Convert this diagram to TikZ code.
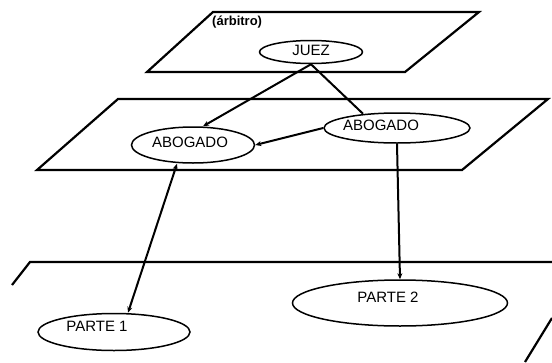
\documentclass[tikz,border=0pt]{standalone}
\usepackage{fontspec}
\setmainfont{Liberation Sans}
\usepackage{tikz}
\usetikzlibrary{shapes.geometric,arrows.meta}

\begin{document}
\begin{tikzpicture}
          [x=1pt,y=-1pt,font=\fontsize{15}{17}\selectfont,
          plane/.style={draw=black,line width=2.2pt,line join=miter},
          node/.style={shape=ellipse,draw=black,line width=1.5pt,inner sep=0pt},
          arc/.style={-{Stealth[length=6pt,width=5pt]},line width=2pt},
          both/.style={{Stealth[length=6pt,width=5pt]}-{Stealth[length=6pt,width=5pt]},line width=2pt},
          edge/.style={line width=2pt}]

            \useasboundingbox (0,0) rectangle (552,362);

            % planes
            \draw [plane] (213,12) -- (479,12) -- (405,72) -- (147,72) -- cycle;
            \draw [plane] (118,99) -- (548,99) -- (462,170) -- (37,170) -- cycle;
            \draw [plane] (12,285) -- (30,262) -- (552,262);
            \draw [plane] (552,318) -- (525,362);

            \node (arb) [anchor=west,inner sep=0pt,font=\fontsize{13}{15}\selectfont\bfseries] at (212,22) {(árbitro)};

            \node (juez) [node,minimum width=103pt,minimum height=23pt] at (311,52) {};
            \node (abo1) [node,minimum width=123pt,minimum height=36pt] at (193,145) {};
            \node (abo2) [node,minimum width=146pt,minimum height=30pt] at (397,128) {};
            \node (p1) [node,minimum width=152pt,minimum height=37pt] at (114,332) {};
            \node (p2) [node,minimum width=215pt,minimum height=46pt] at (400,303) {};

            \node at (311,50) {JUEZ};
            \node at (190,142) {ABOGADO};
            \node at (381,125) {ABOGADO};
            \node at (97,326) {PARTE 1};
            \node at (388,297) {PARTE 2};

          \draw [arc] (juez.south) to ([xshift=10pt]abo1.north);
            \draw [edge] (juez.south) to ([xshift=-34pt,yshift=-1.5pt]abo2.north);
            \draw [arc] (abo2.west) to (abo1.east);
            \draw [both] ([xshift=-16pt]abo1.south) to ([xshift=14pt]p1.north);
            \draw [arc] (abo2.south) to (p2.north);

        \end{tikzpicture}
\end{document}
